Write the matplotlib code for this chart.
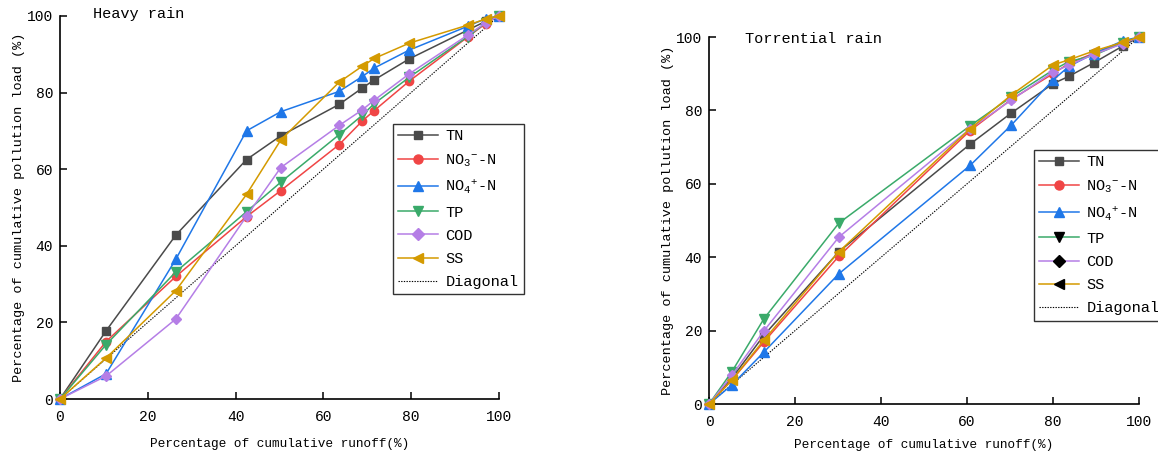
import matplotlib
matplotlib.use('Agg')
from matplotlib import pyplot as plt
from matplotlib.lines import Line2D

plt.rcParams['font.family'] = ['Liberation Mono', 'DejaVu Sans Mono']
plt.rcParams['mathtext.fontset'] = 'custom'
plt.rcParams['mathtext.rm'] = 'Liberation Mono'
plt.rcParams['mathtext.it'] = 'Liberation Mono'
plt.rcParams['mathtext.bf'] = 'Liberation Mono'
#
names = ['TN', r'NO$_3$$^{-}$-N', r'NO$_4$$^{+}$-N', 'TP', 'COD', 'SS']
colors = ['#4a4a4a', '#f04545', '#1f77e8', '#3aaa6a', '#b57ee6', '#d49a00']
markers = ['s', 'o', '^', 'v', 'D', '<']
msizes = [5.5, 6, 6.5, 6.5, 5.5, 6.5]
#
# heavy rain
runoff_heavy = [0, 10.5, 26.4, 42.5, 50.3, 63.6, 68.9, 71.6, 79.6, 92.9, 97.0, 100]
tn_heavy = [0, 17.8, 42.8, 62.5, 68.7, 76.9, 81.2, 83.3, 88.8, 96.3, 98.6, 100]
no3_heavy = [0, 15.0, 32.0, 47.6, 54.4, 66.4, 72.6, 75.3, 83.0, 94.5, 98.0, 100]
nh4_heavy = [0, 6.6, 36.5, 70.0, 75.0, 80.3, 84.2, 86.4, 91.1, 97.3, 99.3, 100]
tp_heavy = [0, 14.2, 33.2, 48.9, 56.6, 69.0, 74.1, 77.1, 84.0, 94.6, 98.2, 100]
cod_heavy = [0, 6.0, 20.9, 47.7, 60.4, 71.4, 75.5, 78.0, 84.9, 95.0, 98.2, 100]
ss_heavy = [0, 10.7, 28.3, 53.4, 67.6, 82.7, 86.9, 88.9, 92.9, 97.6, 99.2, 100]
#
# torrential rain
runoff_torr = [0, 5.3, 12.8, 30.2, 60.7, 70.3, 80.0, 83.7, 89.5, 96.3, 100]
tn_torr = [0, 7.0, 18.8, 41.5, 70.8, 79.3, 87.3, 89.3, 93.0, 97.6, 100]
no3_torr = [0, 6.5, 17.0, 40.3, 74.5, 83.0, 90.0, 92.8, 95.6, 98.5, 100]
nh4_torr = [0, 5.2, 14.2, 35.5, 65.0, 76.0, 88.3, 92.0, 95.5, 99.0, 100]
tp_torr = [0, 8.8, 23.3, 49.3, 75.8, 83.7, 91.0, 93.3, 95.0, 98.5, 100]
cod_torr = [0, 7.8, 20.0, 45.5, 75.0, 82.8, 90.5, 92.3, 95.3, 98.2, 100]
ss_torr = [0, 6.5, 17.5, 41.5, 75.0, 84.2, 92.4, 93.8, 96.2, 98.6, 100]
#
diag = [0, 100]
ticks = [0, 20, 40, 60, 80, 100]
#
fig = plt.figure(figsize=(11.58, 4.55), dpi=100)
ax1 = fig.add_axes([0.0518, 0.123, 0.379, 0.842])
ax2 = fig.add_axes([0.6123, 0.112, 0.3713, 0.8066])
#
panels = [
  (ax1, runoff_heavy, [tn_heavy, no3_heavy, nh4_heavy, tp_heavy, cod_heavy, ss_heavy], 'Heavy rain', (0.075, 1.005), (0.758, 0.718), 10),
  (ax2, runoff_torr, [tn_torr, no3_torr, nh4_torr, tp_torr, cod_torr, ss_torr], 'Torrential rain', (0.084, 0.995), (0.755, 0.692), 7),
]
#
for k, (ax, xs, series, title, tpos, lpos, xpad) in enumerate(panels):
  for i, ys in enumerate(series):
    ax.plot(xs, ys, color=colors[i], marker=markers[i], markersize=msizes[i],
            linewidth=1.1, clip_on=False, zorder=3)
  ax.plot(diag, diag, color='black', linestyle=(0, (1.2, 1.2)), linewidth=0.8, zorder=2)
  ax.set_xlim(0, 100)
  ax.set_ylim(0, 100)
  ax.set_xticks(ticks)
  ax.set_yticks(ticks)
  ax.spines['top'].set_visible(False)
  ax.spines['right'].set_visible(False)
  ax.spines['left'].set_linewidth(1.2)
  ax.spines['bottom'].set_linewidth(1.2)
  ax.tick_params(direction='in', length=5, width=1.1, labelsize=10.5)
  ax.tick_params(axis='x', pad=8)
  ax.tick_params(axis='y', pad=5)
  ax.set_xlabel('Percentage of cumulative runoff(%)', fontsize=9.2, labelpad=xpad)
  ax.set_ylabel('Percentage of cumulative pollution load (%)', fontsize=9.7, labelpad=1)
  ax.text(tpos[0], tpos[1], title, transform=ax.transAxes, fontsize=11, va='center', ha='left')
  #
  handles = []
  for i in range(6):
    mc = colors[i]
    if k == 1 and i >= 3:
      mc = 'black'
    handles.append(Line2D([], [], color=colors[i], marker=markers[i], markersize=msizes[i] + 0.5,
                          markerfacecolor=mc, markeredgecolor=mc, linewidth=1.1))
  handles.append(Line2D([], [], color='black', linestyle=(0, (1.2, 1.2)), linewidth=0.8))
  leg = ax.legend(handles, names + ['Diagonal'], loc='upper left', bbox_to_anchor=lpos,
                  fontsize=11, frameon=True, fancybox=False, edgecolor='black',
                  handlelength=2.6, handletextpad=0.5, labelspacing=0.6, borderpad=0.35,
                  borderaxespad=0)
  leg.get_frame().set_linewidth(1.0)
  leg.set_clip_on(False)
#
plt.savefig('out.png', dpi=100)
